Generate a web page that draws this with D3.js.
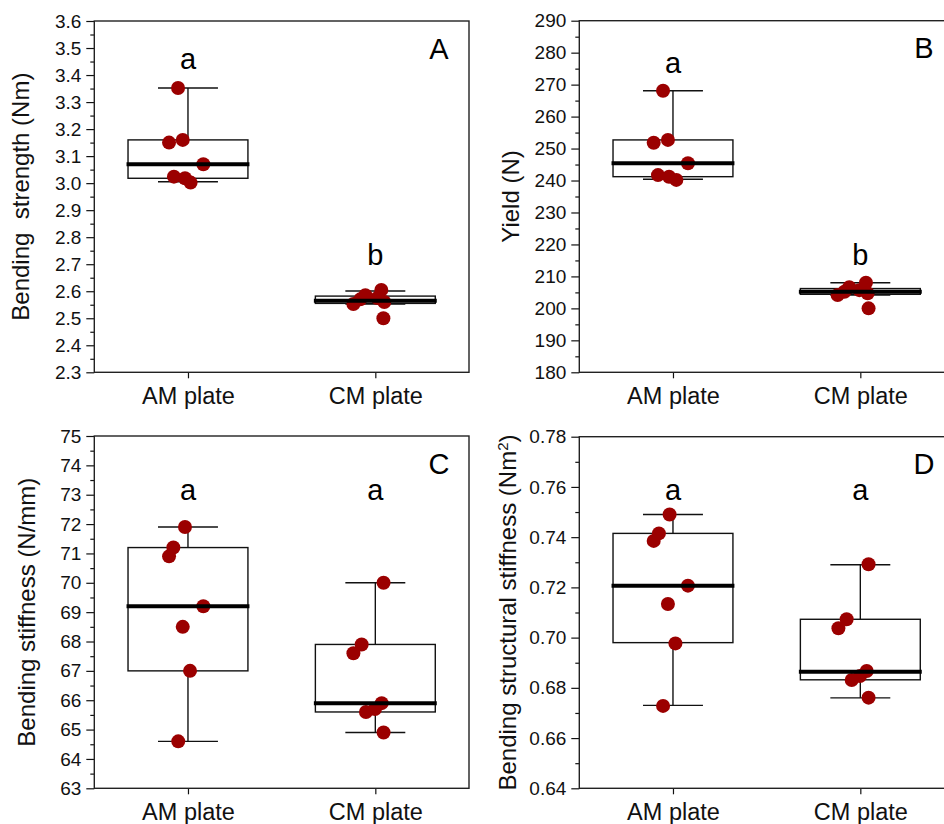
<!DOCTYPE html>
<html>
<head>
<meta charset="utf-8">
<script src="https://cdn.jsdelivr.net/npm/d3@7"></script>
<style>
  html, body { margin: 0; padding: 0; background: #fff; overflow: hidden; }
  svg { display: block; }
  text { white-space: pre; }
</style>
</head>
<body>
<svg id="chart" width="944" height="824"></svg>
<script>
// ---------------- DATA ----------------
const categories = ["AM plate", "CM plate"];
const panelLetters = ["A", "B", "C", "D"];
const yTitles = ["Bending  strength (Nm)", "Yield (N)", "Bending stiffness (N/mm)", "Bending structural stiffness (Nm"];
const yDomains = [[2.3, 3.6], [180, 290], [63, 75], [0.64, 0.78]];
const ticksA = [2.3, 2.4, 2.5, 2.6, 2.7, 2.8, 2.9, 3.0, 3.1, 3.2, 3.3, 3.4, 3.5, 3.6];
const ticksB = [180, 190, 200, 210, 220, 230, 240, 250, 260, 270, 280, 290];
const ticksC = [63, 64, 65, 66, 67, 68, 69, 70, 71, 72, 73, 74, 75];
const ticksD = [0.64, 0.66, 0.68, 0.70, 0.72, 0.74, 0.76, 0.78];
const tickFormats = [".1f", "d", "d", ".2f"];

// raw measurements (7 specimens per group)
const amA = [3.352, 3.15, 3.16, 3.07, 3.024, 3.018, 3.002];
const cmA = [2.553, 2.57, 2.585, 2.575, 2.605, 2.56, 2.50];
const amB = [268.1, 251.8, 252.7, 245.4, 241.7, 241.2, 240.2];
const cmB = [204.2, 205.2, 206.6, 205.7, 208.0, 204.7, 200.0];
const amC = [71.9, 71.2, 70.9, 69.2, 68.5, 67.0, 64.6];
const cmC = [70.0, 67.9, 67.6, 65.9, 65.7, 65.6, 64.9];
const amD = [0.749, 0.7415, 0.7385, 0.7207, 0.7134, 0.6977, 0.6728];
const cmD = [0.7292, 0.7073, 0.7037, 0.6867, 0.6847, 0.6831, 0.6761];

// horizontal jitter of each point (category units)
const jitAmA = [-0.053, -0.101, -0.028, 0.082, -0.075, -0.016, 0.014];
const jitCmA = [-0.117, -0.080, -0.053, 0.011, 0.032, 0.048, 0.043];
const jitAmB = [-0.053, -0.103, -0.027, 0.080, -0.080, -0.021, 0.018];
const jitCmB = [-0.121, -0.085, -0.059, -0.005, 0.030, 0.039, 0.044];
const jitAmC = [-0.016, -0.078, -0.101, 0.082, -0.028, 0.011, -0.052];
const jitCmC = [0.044, -0.073, -0.117, 0.034, -0.002, -0.050, 0.044];
const jitAmD = [-0.018, -0.075, -0.103, 0.080, -0.027, 0.013, -0.053];
const jitCmD = [0.044, -0.073, -0.117, 0.034, -0.002, -0.046, 0.044];

// box stats: [lower whisker, Q1, median, Q3, upper whisker]
const boxAmA = [3.005, 3.018, 3.07, 3.16, 3.352];
const boxCmA = [2.553, 2.555, 2.565, 2.582, 2.601];
const boxAmB = [240.4, 241.2, 245.4, 252.7, 268.1];
const boxCmB = [204.2, 204.4, 205.2, 206.2, 208.0];
const boxAmC = [64.6, 67.0, 69.2, 71.2, 71.9];
const boxCmC = [64.9, 65.6, 65.9, 67.9, 70.0];
const boxAmD = [0.673, 0.698, 0.7207, 0.7415, 0.749];
const boxCmD = [0.676, 0.6832, 0.6864, 0.7073, 0.729];

// significance letters and their baseline value
const sigA = ["a", "b"], sigAy = [3.422, 2.697];
const sigB = ["a", "b"], sigBy = [273.7, 213.6];
const sigC = ["a", "a"], sigCy = [72.82, 72.82];
const sigD = ["a", "a"], sigDy = [0.7548, 0.7548];

// ---------------- LAYOUT ----------------
const FONT = "'Liberation Sans', Arial, Helvetica, sans-serif";
const DOT = "#9b0000";
const panels = [
  { L: 94.3, T: 21, R: 469, B: 372.3, titleX: 29, ticks: ticksA, am: amA, cm: cmA, jam: jitAmA, jcm: jitCmA, bam: boxAmA, bcm: boxCmA, sig: sigA, sigy: sigAy },
  { L: 579.3, T: 20.7, R: 954, B: 372.3, titleX: 519, ticks: ticksB, am: amB, cm: cmB, jam: jitAmB, jcm: jitCmB, bam: boxAmB, bcm: boxCmB, sig: sigB, sigy: sigBy },
  { L: 94.3, T: 436, R: 469, B: 788.3, titleX: 35, ticks: ticksC, am: amC, cm: cmC, jam: jitAmC, jcm: jitCmC, bam: boxAmC, bcm: boxCmC, sig: sigC, sigy: sigCy },
  { L: 579.3, T: 436.7, R: 954, B: 788.3, titleX: 516, ticks: ticksD, am: amD, cm: cmD, jam: jitAmD, jcm: jitCmD, bam: boxAmD, bcm: boxCmD, sig: sigD, sigy: sigDy }
];

const svg = d3.select("#chart");

panels.forEach((p, i) => {
  const g = svg.append("g");
  const x = d3.scaleLinear().domain([0.5, 2.5]).range([p.L, p.R]);
  const y = d3.scaleLinear().domain(yDomains[i]).range([p.B, p.T]);
  const fmt = d3.format(tickFormats[i]);
  const step = p.ticks[1] - p.ticks[0];
  const minor = p.ticks.slice(0, -1).map(t => t + step / 2);

  // minor ticks
  g.append("g").attr("transform", `translate(${p.L},0)`)
    .call(d3.axisLeft(y).tickValues(minor).tickSize(4).tickFormat(""))
    .call(a => a.select(".domain").remove())
    .selectAll("line").attr("stroke", "#111").attr("stroke-width", 1.2);

  // major y axis
  const ya = g.append("g").attr("transform", `translate(${p.L},0)`)
    .call(d3.axisLeft(y).tickValues(p.ticks).tickSize(8).tickSizeOuter(0).tickPadding(5).tickFormat(fmt));
  ya.select(".domain").remove();
  ya.selectAll("line").attr("stroke", "#111").attr("stroke-width", 1.2);
  ya.selectAll("text").attr("font-family", FONT).attr("font-size", 19).attr("fill", "#111");

  // x axis
  const xa = g.append("g").attr("transform", `translate(0,${p.B})`)
    .call(d3.axisBottom(x).tickValues([1, 2]).tickSize(6).tickSizeOuter(0).tickPadding(9)
      .tickFormat((d) => categories[d - 1]));
  xa.select(".domain").remove();
  xa.selectAll("line").attr("stroke", "#111").attr("stroke-width", 1.2);
  xa.selectAll("text").attr("font-family", FONT).attr("font-size", 23.5).attr("fill", "#111");

  // frame
  g.append("rect").attr("x", p.L).attr("y", p.T).attr("width", p.R - p.L).attr("height", p.B - p.T)
    .attr("fill", "none").attr("stroke", "#222").attr("stroke-width", 1.4);

  // y title
  const t = g.append("text")
    .attr("transform", `translate(${p.titleX},${(p.T + p.B) / 2}) rotate(-90)`)
    .attr("text-anchor", "middle").attr("font-family", FONT).attr("font-size", 24).attr("fill", "#111")
    .attr("xml:space", "preserve")
    .text(yTitles[i]);
  if (i === 3) {
    t.append("tspan").attr("baseline-shift", "super").attr("font-size", 15).text("2");
    t.append("tspan").text(")");
  }

  // boxes
  const groups = [
    { c: 1, vals: p.am, jit: p.jam, box: p.bam },
    { c: 2, vals: p.cm, jit: p.jcm, box: p.bcm }
  ];
  const boxHalf = 0.32, capHalf = 0.16, medHalf = 0.328;
  groups.forEach(gr => {
    const [lo, q1, med, q3, hi] = gr.box;
    // whiskers
    g.append("line").attr("x1", x(gr.c)).attr("x2", x(gr.c)).attr("y1", y(q3)).attr("y2", y(hi))
      .attr("stroke", "#111").attr("stroke-width", 1.4);
    g.append("line").attr("x1", x(gr.c)).attr("x2", x(gr.c)).attr("y1", y(q1)).attr("y2", y(lo))
      .attr("stroke", "#111").attr("stroke-width", 1.4);
    [lo, hi].forEach(v => g.append("line")
      .attr("x1", x(gr.c - capHalf)).attr("x2", x(gr.c + capHalf)).attr("y1", y(v)).attr("y2", y(v))
      .attr("stroke", "#111").attr("stroke-width", 1.4));
    // box
    g.append("rect").attr("x", x(gr.c - boxHalf)).attr("y", y(q3))
      .attr("width", x(gr.c + boxHalf) - x(gr.c - boxHalf)).attr("height", y(q1) - y(q3))
      .attr("fill", "none").attr("stroke", "#111").attr("stroke-width", 1.4);
    // points
    g.selectAll(null).data(gr.vals).enter().append("circle")
      .attr("cx", (d, k) => x(gr.c + gr.jit[k])).attr("cy", d => y(d)).attr("r", 7)
      .attr("fill", DOT);
    // median
    g.append("line").attr("x1", x(gr.c - medHalf)).attr("x2", x(gr.c + medHalf)).attr("y1", y(med)).attr("y2", y(med))
      .attr("stroke", "#000").attr("stroke-width", 4);
  });

  // significance letters
  p.sig.forEach((s, k) => {
    g.append("text").attr("x", x(k + 1)).attr("y", y(p.sigy[k]))
      .attr("text-anchor", "middle").attr("font-family", FONT).attr("font-size", 29).attr("fill", "#000")
      .text(s);
  });

  // panel letter
  g.append("text").attr("x", p.R - 30).attr("y", p.T + 37.5)
    .attr("text-anchor", "middle").attr("font-family", FONT).attr("font-size", 29).attr("fill", "#000")
    .text(panelLetters[i]);
});
</script>
</body>
</html>
